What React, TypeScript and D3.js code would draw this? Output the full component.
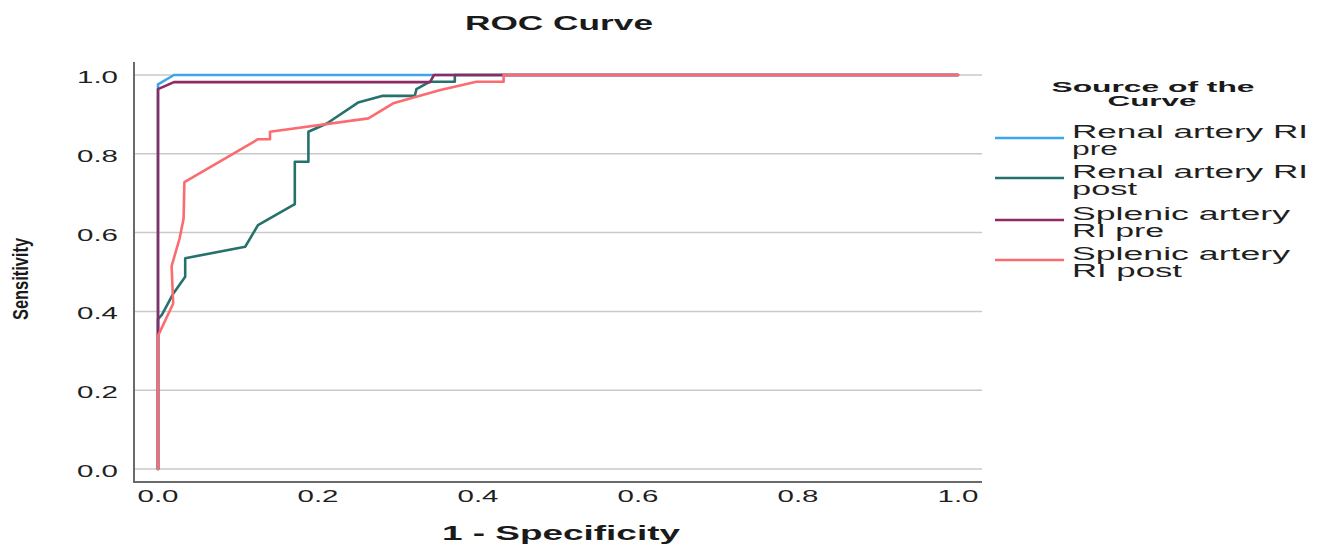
import React from 'react';
import * as d3 from 'd3';

// tick values on both axes
const xTicks = [0, 0.2, 0.4, 0.6, 0.8, 1.0];
const yTicks = [0, 0.2, 0.4, 0.6, 0.8, 1.0];

// legend entries, wrapped the way the source wraps them
const seriesNames = ['Renal artery RI pre', 'Renal artery RI post', 'Splenic artery RI pre', 'Splenic artery RI post'];
const legendLines = [
  ['Renal artery RI', 'pre'],
  ['Renal artery RI', 'post'],
  ['Splenic artery', 'RI pre'],
  ['Splenic artery', 'RI post'],
];

// ROC points: 1 - specificity / sensitivity
const renalPreFpr = [0, 0, 0.02, 1];
const renalPreTpr = [0, 0.976, 1, 1];

const renalPostFpr = [0, 0, 0.005, 0.019, 0.034, 0.034, 0.109, 0.125, 0.171, 0.171, 0.188, 0.188, 0.211, 0.25, 0.28, 0.321, 0.323, 0.34, 0.371, 0.371, 1];
const renalPostTpr = [0, 0.38, 0.392, 0.445, 0.488, 0.535, 0.564, 0.619, 0.672, 0.78, 0.78, 0.856, 0.877, 0.93, 0.947, 0.947, 0.964, 0.983, 0.983, 1, 1];

const splenicPreFpr = [0, 0, 0.02, 0.34, 0.345, 1];
const splenicPreTpr = [0, 0.964, 0.982, 0.982, 1, 1];

const splenicPostFpr = [0, 0, 0.019, 0.017, 0.027, 0.032, 0.033, 0.125, 0.14, 0.14, 0.263, 0.294, 0.353, 0.398, 0.432, 0.432, 1];
const splenicPostTpr = [0, 0.338, 0.42, 0.515, 0.585, 0.636, 0.728, 0.837, 0.837, 0.856, 0.89, 0.928, 0.962, 0.983, 0.983, 1, 1];

const colors = ['#3ba6ee', '#25726c', '#8e2a63', '#fb6b70'];

const FONT = '"Liberation Sans", Arial, sans-serif';

// the source image is stretched sideways, so every text is fitted to its measured width
const Txt = ({ x, y, w, size, bold = false, anchor = 'start', fill = '#222', children }: any) => (
  <text x={x} y={y} fontSize={size} fontWeight={bold ? 'bold' : 'normal'} fontFamily={FONT}
    textAnchor={anchor} fill={fill} textLength={w} lengthAdjust="spacingAndGlyphs">{children}</text>
);

const App = () => {
  const width = 1330;
  const height = 549;

  const x = d3.scaleLinear().domain([0, 1]).range([158, 958]);
  const y = d3.scaleLinear().domain([0, 1]).range([469, 75]);

  const axisLeft = 134;
  const axisBottom = 482;
  const plotRight = 982;
  const plotTop = 62;

  const line = d3.line<[number, number]>()
    .x(d => x(d[0]))
    .y(d => y(d[1]));

  const series = [
    d3.zip(renalPreFpr, renalPreTpr),
    d3.zip(renalPostFpr, renalPostTpr),
    d3.zip(splenicPreFpr, splenicPreTpr),
    d3.zip(splenicPostFpr, splenicPostTpr),
  ] as [number, number][][];

  const fmt = d3.format('.1f');

  const legendY = [138, 178, 220, 260];
  const firstW = [236, 236, 218, 218];
  const secondW = [46, 65, 92, 110];

  return (
    <svg width={width} height={height} style={{ position: 'absolute', left: 0, top: 0, background: '#fff' }}>
      <Txt x={559} y={30} w={188} size={21} bold anchor="middle" fill="#1a1a1a">ROC Curve</Txt>

      {/* gridlines */}
      {yTicks.map(t => (
        <line key={'g' + t} x1={axisLeft} x2={plotRight} y1={y(t)} y2={y(t)} stroke="#c9c9c9" strokeWidth={1.5} />
      ))}

      {/* axes */}
      <line x1={axisLeft} x2={axisLeft} y1={plotTop} y2={axisBottom + 1} stroke="#6a6a6a" strokeWidth={2} />
      <line x1={axisLeft} x2={plotRight} y1={axisBottom} y2={axisBottom} stroke="#6a6a6a" strokeWidth={2} />

      {yTicks.map(t => (
        <Txt key={'y' + t} x={118} y={y(t) + 8} w={41} size={16.5} anchor="end" fill="#1f1f1f">{fmt(t)}</Txt>
      ))}
      {xTicks.map(t => (
        <Txt key={'x' + t} x={x(t)} y={502} w={41} size={16.5} anchor="middle" fill="#1f1f1f">{fmt(t)}</Txt>
      ))}

      <Txt x={561} y={540} w={238} size={21} bold anchor="middle" fill="#1a1a1a">1 - Specificity</Txt>
      <g transform="translate(28,279) rotate(-90)">
        <Txt x={0} y={0} w={82} size={22} bold anchor="middle" fill="#1a1a1a">Sensitivity</Txt>
      </g>

      {/* curves */}
      {series.map((s, i) => (
        <path key={seriesNames[i]} d={line(s) || ''} fill="none" stroke={colors[i]} strokeWidth={2.6}
          strokeLinejoin="round" strokeLinecap="round" />
      ))}

      {/* legend */}
      <Txt x={1153} y={92} w={203} size={15.5} bold anchor="middle" fill="#1a1a1a">Source of the</Txt>
      <Txt x={1152} y={106} w={89} size={15.5} bold anchor="middle" fill="#1a1a1a">Curve</Txt>
      {legendLines.map((lines, i) => (
        <g key={'l' + i}>
          <line x1={995} x2={1064} y1={legendY[i]} y2={legendY[i]} stroke={colors[i]} strokeWidth={2.6} />
          <Txt x={1072} y={legendY[i]} w={firstW[i]} size={17.5} fill="#1f1f1f">{lines[0]}</Txt>
          <Txt x={1072} y={legendY[i] + 16.5} w={secondW[i]} size={17.5} fill="#1f1f1f">{lines[1]}</Txt>
        </g>
      ))}
    </svg>
  );
};

export default App;
